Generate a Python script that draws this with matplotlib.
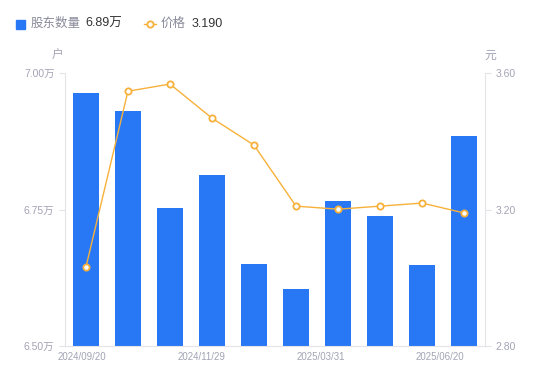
import matplotlib.pyplot as plt

plt.rcParams['font.family'] = ['Liberation Sans', 'Noto Sans CJK SC']

dates = ["2024/09/20", "2024/10/18", "2024/10/31", "2024/11/29", "2024/12/31",
         "2025/02/28", "2025/03/31", "2025/04/30", "2025/05/20", "2025/06/20"]
holders = [6.963, 6.930, 6.753, 6.813, 6.650, 6.604, 6.766, 6.738, 6.648, 6.885]
price = [3.031, 3.547, 3.568, 3.468, 3.389, 3.210, 3.201, 3.210, 3.219, 3.190]

blue = "#2878f6"
orange = "#f7b13b"
gray = "#a3a3b5"
spine = "#e3e3e8"

fig = plt.figure(figsize=(5.5, 3.81), dpi=100)
ax = fig.add_axes([0.118, 0.092, 0.764, 0.716])
ax2 = ax.twinx()

n = len(dates)
x = list(range(n))
ax.bar(x, holders, width=0.6, color=blue, zorder=2)
ax.set_ylim(6.5, 7.0)
ax.set_xlim(-0.5, n - 0.5)
ax.set_yticks([6.5, 6.75, 7.0])
ax.set_yticklabels(["6.50万", "6.75万", "7.00万"])
# date labels are spread a little inside the bar centres
lab_pos = [-0.1 + i * 8.53 / (n - 1) for i in x]
ax.set_xticks(lab_pos[::3])
ax.set_xticklabels(dates[::3])

ax2.plot(x, price, color=orange, lw=1, marker="o", ms=4.5, mfc="white",
         mec=orange, mew=1.3, zorder=3)
ax2.set_ylim(2.8, 3.6)
ax2.set_yticks([2.8, 3.2, 3.6])
ax2.set_yticklabels(["2.80", "3.20", "3.60"])

for a in (ax, ax2):
    for s in a.spines.values():
        s.set_visible(False)
    a.tick_params(colors=gray, labelsize=7.5, length=4, width=0.8, color=spine)
ax.spines['left'].set_visible(True)
ax.spines['bottom'].set_visible(True)
ax2.spines['right'].set_visible(True)
for s in (ax.spines['left'], ax.spines['bottom'], ax2.spines['right']):
    s.set_color(spine)
ax.tick_params(axis='x', length=0, pad=4, labelsize=7)

fig.text(58 / 550, 1 - 56 / 381, "户", color=gray, fontsize=8.5, ha="center", va="center")
fig.text(490 / 550, 1 - 56 / 381, "元", color=gray, fontsize=8.5, ha="center", va="center")

# legend
fig.patches.append(plt.Rectangle((16 / 550, 1 - 29 / 381), 9 / 550, 9 / 381,
                                 transform=fig.transFigure, color=blue))
fig.text(31 / 550, 1 - 24 / 381, "股东数量", color="#8a8a9a", fontsize=9, va="center")
fig.text(85 / 550, 1 - 24 / 381, "6.89万", color="#333333", fontsize=9, va="center")
fig.add_artist(plt.Line2D([144 / 550, 156 / 550], [1 - 24 / 381, 1 - 24 / 381],
                          transform=fig.transFigure, color=orange, lw=1))
fig.add_artist(plt.Line2D([150 / 550], [1 - 24 / 381], transform=fig.transFigure,
                          marker="o", ms=4.5, mfc="white", mec=orange, mew=1.3, lw=0))
fig.text(161 / 550, 1 - 24 / 381, "价格", color="#8a8a9a", fontsize=9, va="center")
fig.text(192 / 550, 1 - 24 / 381, "3.190", color="#333333", fontsize=9, va="center")

fig.savefig("out.png", dpi=100)
